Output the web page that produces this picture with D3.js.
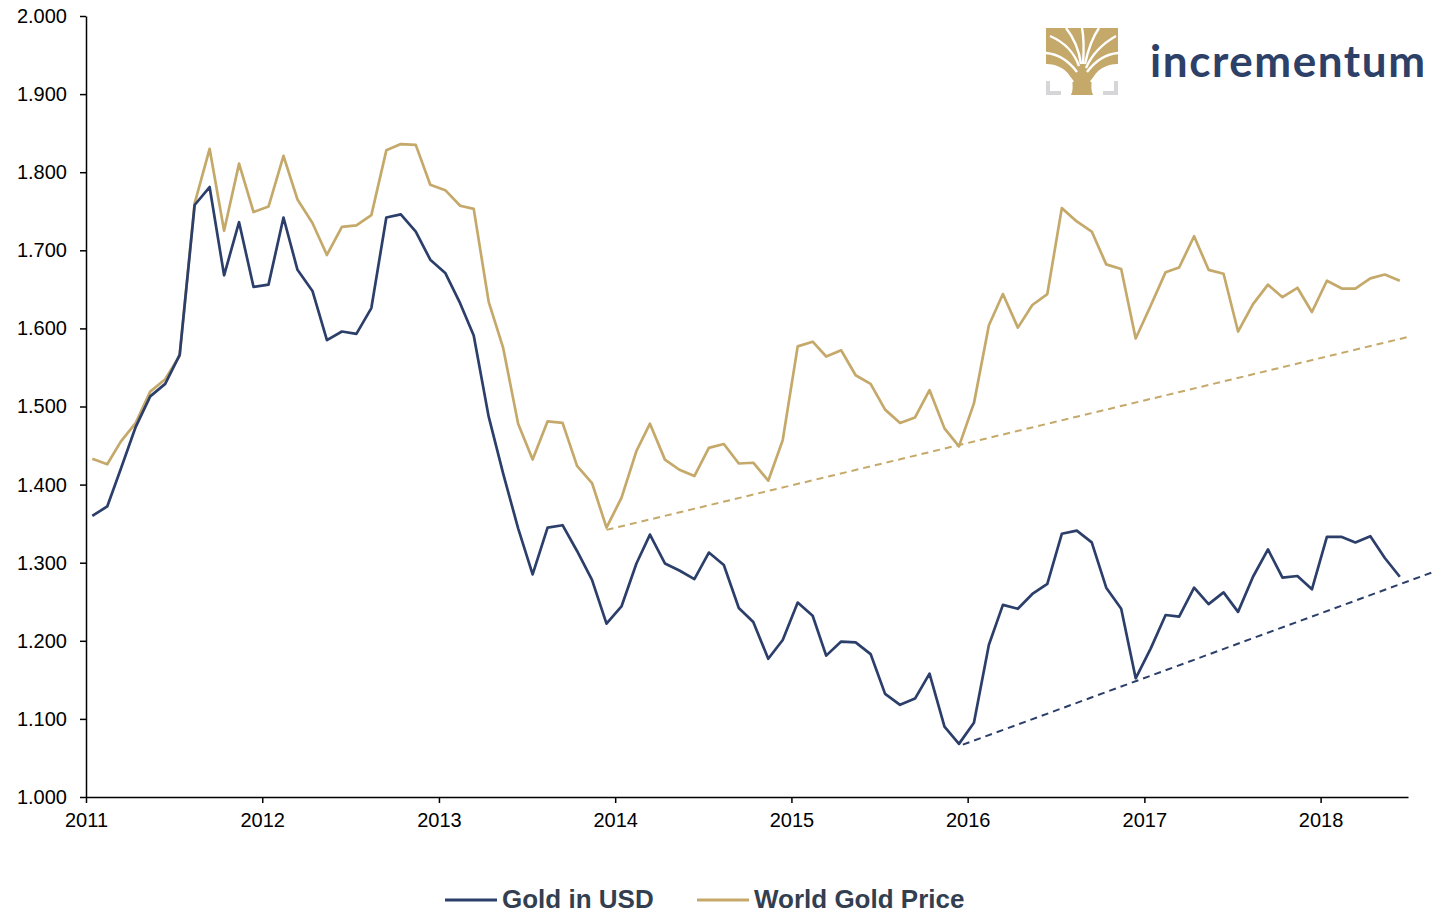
<!DOCTYPE html>
<html lang="en">
<head>
    <meta charset="UTF-8">
    <title>Gold in USD vs World Gold Price</title>
    <script src="https://d3js.org/d3.v7.min.js"></script>
    <style>
        body, html {
            margin: 0;
            background-color: #ffffff;
            overflow: hidden;
        }
        svg {
            display: block;
            font-family: 'Liberation Sans', Arial, sans-serif;
        }
    </style>
</head>
<body>
<svg id="chart" width="1441" height="914"></svg>

<script>
    // monthly values, Jan 2011 - Jun 2018
    const goldUsd = [
        1360, 1372, 1420, 1474, 1513, 1529, 1566, 1758, 1781, 1668, 1736, 1653,
        1656, 1742, 1675, 1648, 1585, 1596, 1593, 1626, 1742, 1746, 1724, 1688,
        1671, 1632, 1591, 1487, 1414, 1344, 1285, 1345, 1348, 1315, 1278, 1222,
        1244, 1299, 1336, 1299, 1290, 1279, 1313, 1297, 1242, 1224, 1177, 1201,
        1249, 1232, 1181, 1199, 1198, 1183, 1132, 1118, 1126, 1158, 1090, 1068,
        1095, 1195, 1246, 1241, 1260, 1273, 1337, 1341, 1326, 1268, 1241, 1152,
        1190, 1233, 1231, 1268, 1247, 1262, 1237, 1282, 1317, 1281, 1283, 1266,
        1333, 1333, 1326, 1334, 1306, 1282
    ];
    const worldGold = [
        1433, 1426, 1455, 1479, 1519, 1535, 1565, 1760, 1830, 1725, 1811, 1749,
        1756, 1821, 1765, 1735, 1694, 1730, 1732, 1745, 1828, 1836, 1835, 1784,
        1777, 1757, 1753, 1634, 1575, 1478, 1432, 1481, 1479, 1424, 1402, 1345,
        1383, 1443, 1478, 1432, 1419, 1411, 1447, 1452, 1427, 1428, 1405, 1457,
        1577, 1583, 1564, 1572, 1540, 1529, 1496, 1479, 1486, 1521, 1472, 1449,
        1504, 1604, 1644, 1601, 1630, 1644, 1754, 1737, 1724, 1682, 1676, 1587,
        1629, 1672, 1678, 1718, 1675, 1670, 1596, 1631, 1656, 1640, 1652, 1621,
        1661, 1651, 1651, 1664, 1669, 1661
    ];
    const dates = goldUsd.map((d, i) => new Date(2011, i, 14));

    // support lines (start / end)
    const worldTrendDates = [new Date(2013, 11, 14), new Date(2018, 6, 1)];
    const worldTrendValues = [1342, 1589];
    const usdTrendDates = [new Date(2015, 11, 22), new Date(2018, 7, 22)];
    const usdTrendValues = [1067, 1288];

    const yTicks = d3.range(1000, 2001, 100);
    const xTickYears = d3.range(2011, 2019);
    const seriesNames = ['Gold in USD', 'World Gold Price'];

    const navy = '#2c3f6b';
    const gold = '#c5a96a';

    const svg = d3.select('#chart');
    const margin = {left: 86, right: 33, top: 16, bottom: 117};
    const width = 1441, height = 914;

    const x = d3.scaleTime()
        .domain([new Date(2011, 0, 1), new Date(2018, 6, 1)])
        .range([margin.left, width - margin.right]);
    const y = d3.scaleLinear()
        .domain([1000, 2000])
        .range([height - margin.bottom, margin.top]);

    const de = d3.formatLocale({decimal: ',', thousands: '.', grouping: [3], currency: ['', '€']});
    const fmt = de.format(',d');

    // axes
    const yAxis = svg.append('g')
        .attr('transform', `translate(${margin.left},0)`)
        .call(d3.axisLeft(y).tickValues(yTicks).tickFormat(fmt).tickSize(6).tickSizeOuter(0));
    const xAxis = svg.append('g')
        .attr('transform', `translate(0,${height - margin.bottom})`)
        .call(d3.axisBottom(x)
            .tickValues(xTickYears.map(yr => new Date(yr, 0, 1)))
            .tickFormat(d3.timeFormat('%Y'))
            .tickSize(6).tickSizeOuter(0));

    [yAxis, xAxis].forEach(ax => {
        ax.select('.domain').attr('stroke', '#000').attr('stroke-width', 1.5);
        ax.selectAll('.tick line').attr('stroke', '#000').attr('stroke-width', 1.5);
        ax.selectAll('.tick text')
            .attr('fill', '#000')
            .style('font-size', '20px')
            .style('font-family', "'Liberation Sans', Arial, sans-serif");
    });
    yAxis.selectAll('.tick text').attr('x', -19);
    xAxis.selectAll('.tick text').attr('y', 16);

    // trend lines
    const trendLine = d3.line().x(d => x(d[0])).y(d => y(d[1]));
    svg.append('path')
        .datum(worldTrendDates.map((d, i) => [d, worldTrendValues[i]]))
        .attr('d', trendLine)
        .attr('fill', 'none')
        .attr('stroke', gold)
        .attr('stroke-width', 2)
        .attr('stroke-dasharray', '7,5');
    svg.append('path')
        .datum(usdTrendDates.map((d, i) => [d, usdTrendValues[i]]))
        .attr('d', trendLine)
        .attr('fill', 'none')
        .attr('stroke', navy)
        .attr('stroke-width', 2)
        .attr('stroke-dasharray', '7,5');

    // series
    const line = d3.line()
        .x((d, i) => x(dates[i]))
        .y(d => y(d));

    svg.append('path')
        .datum(worldGold)
        .attr('d', line)
        .attr('fill', 'none')
        .attr('stroke', gold)
        .attr('stroke-width', 2.7)
        .attr('stroke-linejoin', 'round');
    svg.append('path')
        .datum(goldUsd)
        .attr('d', line)
        .attr('fill', 'none')
        .attr('stroke', navy)
        .attr('stroke-width', 2.7)
        .attr('stroke-linejoin', 'round');

    // legend
    const legend = svg.append('g').attr('transform', 'translate(0,900)');
    const legendX = [445, 697];
    [navy, gold].forEach((c, i) => {
        legend.append('line')
            .attr('x1', legendX[i]).attr('x2', legendX[i] + 52)
            .attr('y1', 0).attr('y2', 0)
            .attr('stroke', c).attr('stroke-width', 3);
        legend.append('text')
            .attr('x', legendX[i] + 57)
            .attr('y', 8)
            .attr('fill', '#333f50')
            .style('font-size', '26px')
            .style('font-weight', 'bold')
            .text(seriesNames[i]);
    });

    // logo
    const logo = svg.append('g').attr('transform', 'translate(1046,28)');
    logo.append('path')
        .attr('d', 'M0,0 H72 V36 C60,36 50,42 46,52 C45,58 45,63 47,67 H25 C27,63 27,58 26,52 C22,42 12,36 0,36 Z')
        .attr('fill', gold);
    // white gaps between the branches
    const gaps = [
        'M27,54 C20,44 10,40 0,41', 'M31,44 C22,32 12,26 0,25',
        'M33,38 C28,24 18,14 4,8', 'M35,36 C33,22 28,10 20,0',
        'M37,36 C38,22 38,10 36,0', 'M39,36 C42,22 46,10 53,0',
        'M40,40 C46,26 56,16 70,8', 'M41,44 C50,32 60,26 72,25',
        'M45,54 C52,44 62,40 72,41'
    ];
    logo.selectAll('path.gap').data(gaps).enter().append('path')
        .attr('class', 'gap')
        .attr('d', d => d)
        .attr('fill', 'none')
        .attr('stroke', '#fff')
        .attr('stroke-width', 2.4);
    logo.append('path')
        .attr('d', 'M2,53 V65 H15 M70,53 V65 H57')
        .attr('fill', 'none')
        .attr('stroke', '#d6d6d8')
        .attr('stroke-width', 4);
    svg.append('text')
        .attr('x', 1150)
        .attr('y', 77)
        .attr('fill', '#2d4068')
        .attr('textLength', 275)
        .style('font-family', 'Lato, sans-serif')
        .style('font-weight', 'bold')
        .style('font-size', '44px')
        .text('incrementum');
</script>
</body>
</html>
